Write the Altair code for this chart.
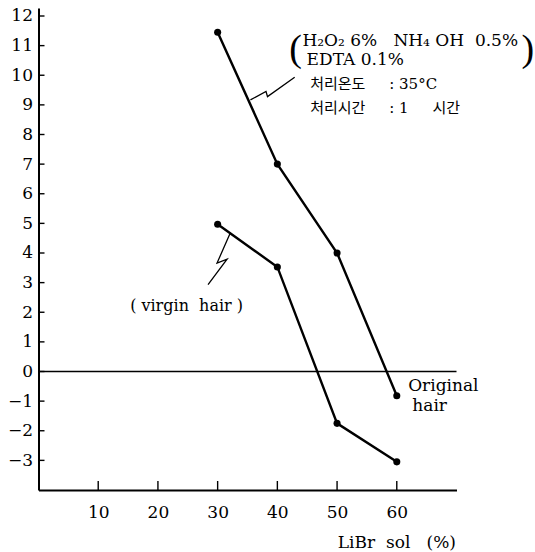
import altair as alt
import pandas as pd

NB = "\u00a0"

# ---- data ----
conc = [30, 40, 50, 60]
treated = [11.45, 7.0, 4.0, -0.82]
virgin = [4.97, 3.53, -1.75, -3.05]

x_ticks = [10, 20, 30, 40, 50, 60]
y_ticks = list(range(-3, 13))

# leader (zig-zag) lines, in data units
lead_upper_x = [35.49, 38.1, 38.35, 42.9]
lead_upper_y = [9.17, 9.45, 9.28, 9.93]
lead_lower_x = [32.13, 29.9, 31.58, 28.39]
lead_lower_y = [4.68, 3.66, 3.79, 2.93]

chem_text = ["H\u2082O\u2082" + NB + "6%" + NB * 3 + "NH\u2084" + NB + "OH" + NB * 2 + "0.5%",
             "EDTA" + NB + "0.1%"]
chem_x = [44.2, 44.9]
chem_y = [11.17, 10.5]

kor_text = ["처리온도" + NB * 5 + ":" + NB + "35°C",
            "처리시간" + NB * 5 + ":" + NB + "1" + NB * 5 + "시간"]
kor_x = [45.5, 45.5]
kor_y = [9.71, 8.9]

orig_text = ["Original", "hair"]
orig_x = [61.9, 62.6]
orig_y = [-0.48, -1.16]

paren_text = ["(", ")"]
paren_x = [42.0, 80.9]
paren_y = [10.85, 10.85]

virgin_lbl = ["(" + NB + "virgin" + NB * 2 + "hair" + NB + ")"]
virgin_lbl_x = [24.8]
virgin_lbl_y = [2.22]

x_title = "LiBr" + NB * 2 + "sol" + NB * 3 + "(%)"

SERIF = "DejaVu Serif"
MIXED = "DejaVu Serif, Noto Sans CJK KR"

xs = alt.Scale(domain=[0, 70], nice=False, zero=False)
ys = alt.Scale(domain=[-4, 12.27], nice=False, zero=False)

X = alt.X("x:Q", scale=xs,
          axis=alt.Axis(values=x_ticks, ticks=False, grid=False, domainColor="black",
                        domainWidth=2, labelFont=SERIF, labelFontSize=17, labelColor="black",
                        labelPadding=14, titleFont=SERIF,
                        titleFontSize=17, titleFontWeight="normal", titleColor="black",
                        titleAlign="right", titleAnchor="end", titleX=417, titleY=52,
                        titleBaseline="middle"),
          title=x_title)
Y = alt.Y("y:Q", scale=ys,
          axis=alt.Axis(values=y_ticks, ticks=False, grid=False, domainColor="black",
                        domainWidth=2, labelFont=SERIF, labelFontSize=17, labelColor="black",
                        labelPadding=6),
          title=None)

series = pd.DataFrame({
    "x": conc * 2,
    "y": treated + virgin,
    "series": ["treated"] * 4 + ["virgin"] * 4,
})

lines = alt.Chart(series).mark_line(color="black", strokeWidth=2.4).encode(
    x=X, y=Y, detail="series:N")

points = alt.Chart(series).mark_circle(color="black", size=50, opacity=1).encode(x=X, y=Y)

zero = alt.Chart(pd.DataFrame({"x": [0], "x2": [70], "y": [0]})).mark_rule(
    color="black", strokeWidth=1.6).encode(x=X, x2="x2:Q", y=Y)

lead = pd.DataFrame({
    "x": lead_upper_x + lead_lower_x,
    "y": lead_upper_y + lead_lower_y,
    "g": ["u"] * 4 + ["l"] * 4,
    "o": list(range(4)) * 2,
})
leaders = alt.Chart(lead).mark_line(color="black", strokeWidth=1.3).encode(
    x=X, y=Y, detail="g:N", order="o:Q")


def text_layer(xv, yv, tv, font, size, align="left", weight="normal"):
    return alt.Chart(pd.DataFrame({"x": xv, "y": yv, "t": tv})).mark_text(
        align=align, baseline="middle", font=font, fontSize=size, fontWeight=weight,
        color="black").encode(x=X, y=Y, text="t:N")


chem = text_layer(chem_x, chem_y, chem_text, SERIF, 17)
kor = text_layer(kor_x, kor_y, kor_text, MIXED, 15)
orig = text_layer(orig_x, orig_y, orig_text, SERIF, 17)
parens = text_layer(paren_x, paren_y, paren_text, "Liberation Serif", 38)
vlab = text_layer(virgin_lbl_x, virgin_lbl_y, virgin_lbl, SERIF, 16, align="center")

ytk = alt.Chart(pd.DataFrame({"x": [0] * len(y_ticks), "y": y_ticks})).mark_tick(
    orient="horizontal", size=6, thickness=1.4, xOffset=3, color="black", opacity=1).encode(
    x=X, y=Y)
xtk = alt.Chart(pd.DataFrame({"x": x_ticks, "y": [-4] * len(x_ticks)})).mark_tick(
    orient="vertical", size=9, thickness=1.4, yOffset=-4.5, color="black", opacity=1).encode(
    x=X, y=Y)

chart = alt.layer(lines, zero, points, leaders, chem, kor, orig, parens, vlab, ytk, xtk).properties(
    width=418, height=482,
    autosize=alt.AutoSizeParams(type="none"),
    padding={"left": 38.5, "top": 8, "right": 78.5, "bottom": 62},
    background="white",
).configure_view(stroke=None)

chart.save("out.html", embed_options={"renderer": "svg", "actions": False})
